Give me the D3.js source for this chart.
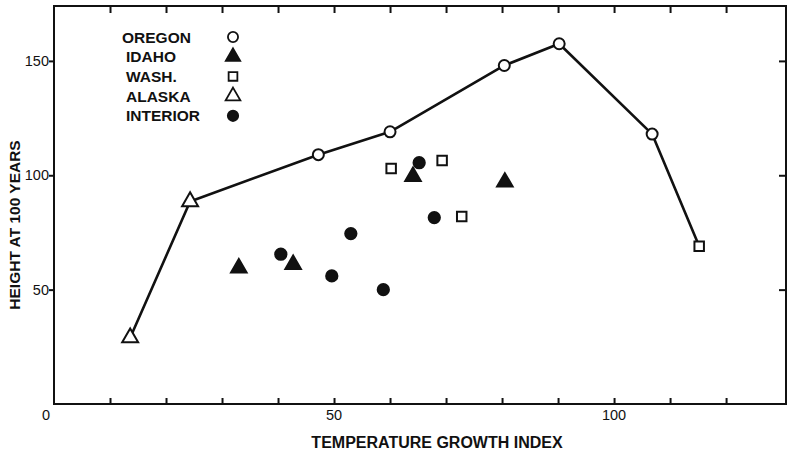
<!DOCTYPE html>
<html>
<head>
<meta charset="utf-8">
<script src="https://cdn.jsdelivr.net/npm/d3@7"></script>
<style>
  html, body { margin: 0; padding: 0; background: #fff; }
  svg { display: block; }
  text { font-family: "Liberation Sans", Arial, Helvetica, sans-serif; fill: #111; }
</style>
</head>
<body>
<svg id="chart" width="792" height="451"></svg>
<script>
// Temperature growth index vs. height at 100 years, by region
const oregonX   = [47.2, 60.0, 80.4, 90.2, 106.8];
const oregonY   = [109, 119, 148, 157.5, 118];
const idahoX    = [33.0, 42.7, 64.1, 80.5];
const idahoY    = [59.5, 61, 99.5, 97];
const washX     = [60.2, 69.3, 72.8, 115.2];
const washY     = [103, 106.5, 82, 69];
const alaskaX   = [13.6, 24.3];
const alaskaY   = [29, 88.5];
const interiorX = [40.5, 49.6, 53.0, 58.8, 65.2, 67.9];
const interiorY = [65.5, 56, 74.5, 50, 105.5, 81.5];

// Upper envelope joining the tallest stands across the index range
const envelopeX = [13.6, 24.3, 47.2, 60.0, 80.4, 90.2, 106.8, 115.2];
const envelopeY = [29, 88.5, 109, 119, 148, 157.5, 118, 69];

const legendNames = ["OREGON", "IDAHO", "WASH.", "ALASKA", "INTERIOR"];
const xTickLabels = [0, 50, 100];
const yTickLabels = [50, 100, 150];
const xMinorTicks = [10, 20, 30, 40, 50, 60, 70, 80, 90, 100, 110, 120];

(function () {
const svg = d3.select("#chart");
const pLeft = 54, pRight = 786, pTop = 6, pBottom = 404;

const x = d3.scaleLinear().domain([0, 130.7]).range([pLeft, pRight]);
const y = d3.scaleLinear().domain([0, 174]).range([pBottom, pTop]);

const ink = "#111";

// Frame
svg.append("rect")
  .attr("x", pLeft).attr("y", pTop)
  .attr("width", pRight - pLeft).attr("height", pBottom - pTop)
  .attr("fill", "none").attr("stroke", ink).attr("stroke-width", 2);

// Bottom axis: inward ticks, labels at 0/50/100
const xBottom = svg.append("g").attr("transform", `translate(0,${pBottom})`)
  .call(d3.axisBottom(x).tickValues(xMinorTicks).tickSize(-6).tickFormat(""));
xBottom.select(".domain").remove();
xBottom.selectAll("line").attr("stroke", ink).attr("stroke-width", 2);

const xTop = svg.append("g").attr("transform", `translate(0,${pTop})`)
  .call(d3.axisTop(x).tickValues(xMinorTicks).tickSize(-7).tickFormat(""));
xTop.select(".domain").remove();
xTop.selectAll("line").attr("stroke", ink).attr("stroke-width", 2);

svg.selectAll(".xlab").data(xTickLabels).join("text")
  .attr("class", "xlab")
  .attr("x", d => d === 0 ? x(d) - 8 : x(d))
  .attr("y", pBottom + 16)
  .attr("text-anchor", "middle")
  .attr("font-size", 14.5)
  .text(d => d);

// Left axis: outward ticks
const yLeft = svg.append("g").attr("transform", `translate(${pLeft},0)`)
  .call(d3.axisLeft(y).tickValues(yTickLabels).tickSize(5).tickPadding(0).tickFormat(d => d));
yLeft.select(".domain").remove();
yLeft.selectAll("line").attr("stroke", ink).attr("stroke-width", 2);
yLeft.selectAll("text").attr("font-size", 14.5).attr("fill", ink)
  .style("font-family", "'Liberation Sans', Arial, sans-serif");

// Right axis: inward ticks
const yRight = svg.append("g").attr("transform", `translate(${pRight},0)`)
  .call(d3.axisRight(y).tickValues(yTickLabels).tickSize(-7).tickFormat(""));
yRight.select(".domain").remove();
yRight.selectAll("line").attr("stroke", ink).attr("stroke-width", 2);

// Axis titles
svg.append("text")
  .attr("x", 437).attr("y", 448)
  .attr("text-anchor", "middle")
  .attr("font-size", 16).attr("font-weight", "bold")
  .text("TEMPERATURE GROWTH INDEX");

svg.append("text")
  .attr("transform", "translate(20,225) rotate(-90)")
  .attr("text-anchor", "middle")
  .attr("font-size", 15.5).attr("font-weight", "bold")
  .text("HEIGHT AT 100 YEARS");

// Envelope line
const line = d3.line().x(d => x(d[0])).y(d => y(d[1]));
svg.append("path")
  .datum(d3.zip(envelopeX, envelopeY))
  .attr("d", line)
  .attr("fill", "none").attr("stroke", ink).attr("stroke-width", 2.6)
  .attr("stroke-linejoin", "round");

// Marker symbols
const symbols = {
  circleOpen:   { type: d3.symbolCircle,   size: 95,  fill: "#fff", stroke: ink },
  triFilled:    { type: d3.symbolTriangle, size: 105, fill: ink,    stroke: ink },
  squareOpen:   { type: d3.symbolSquare,   size: 90,  fill: "#fff", stroke: ink },
  triOpen:      { type: d3.symbolTriangle, size: 110, fill: "#fff", stroke: ink },
  circleFilled: { type: d3.symbolCircle,   size: 100, fill: ink,    stroke: ink }
};

function drawPoints(xs, ys, key) {
  const s = symbols[key];
  svg.append("g").selectAll("path").data(d3.zip(xs, ys)).join("path")
    .attr("transform", d => `translate(${x(d[0])},${y(d[1])})`)
    .attr("d", d3.symbol().type(s.type).size(s.size))
    .attr("fill", s.fill).attr("stroke", s.stroke).attr("stroke-width", 2);
}

drawPoints(interiorX, interiorY, "circleFilled");
drawPoints(idahoX, idahoY, "triFilled");
drawPoints(washX, washY, "squareOpen");
drawPoints(alaskaX, alaskaY, "triOpen");
drawPoints(oregonX, oregonY, "circleOpen");

// Legend
const legendKeys = ["circleOpen", "triFilled", "squareOpen", "triOpen", "circleFilled"];
const legendTextX = [122, 126, 126, 126, 126];
const legend = svg.append("g");
legendNames.forEach((name, i) => {
  const cy = 37 + i * 19.7;
  legend.append("text")
    .attr("x", legendTextX[i]).attr("y", cy + 5.5)
    .attr("font-size", 15.5).attr("font-weight", "bold")
    .text(name);
  const s = symbols[legendKeys[i]];
  legend.append("path")
    .attr("transform", `translate(233,${cy})`)
    .attr("d", d3.symbol().type(s.type).size(s.size * 0.85))
    .attr("fill", s.fill).attr("stroke", s.stroke).attr("stroke-width", 1.8);
});
})();
</script>
</body>
</html>
